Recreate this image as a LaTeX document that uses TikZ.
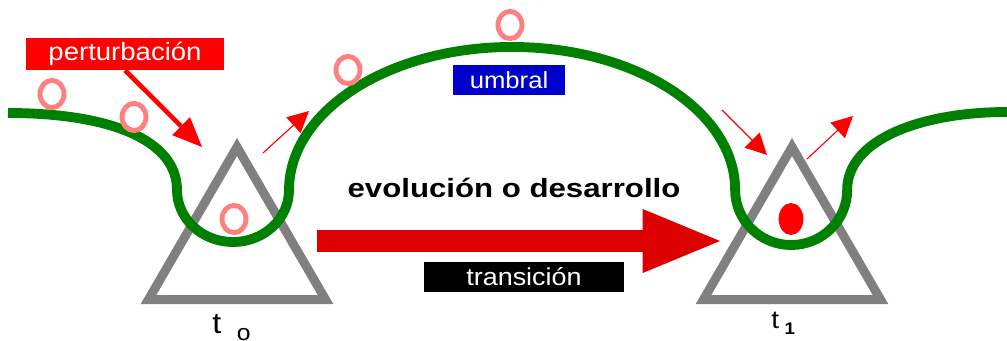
\documentclass[tikz,border=0pt]{standalone}
\usepackage{fontspec}
\setmainfont{Liberation Sans}[FakeStretch=1.1]
\newfontfamily\titulo{Liberation Sans}[FakeStretch=1.18]
\usetikzlibrary{arrows.meta}
\definecolor{verde}{RGB}{0,128,0}
\definecolor{gris}{RGB}{128,128,128}
\definecolor{rosa}{RGB}{255,128,128}
\definecolor{rojo}{RGB}{255,0,0}
\definecolor{rojooscuro}{RGB}{221,0,0}
\definecolor{azul}{RGB}{0,0,204}

\begin{document}
\begin{tikzpicture}[x=0.025cm, y=-0.025cm,
	caja/.style={text=white, inner sep=0pt},
	bola/.style={draw=rosa, line width=3.5pt},
	flechita/.style={rojo, line width=0.8pt, -{Triangle[length=15pt,width=15pt]}},
	triangulo/.style={draw=gris, line width=6.4pt}]
	\useasboundingbox (0,0) rectangle (1007,341);
	\foreach \cx in {237,792}
		\draw[triangulo] (\cx-88.5,299.5) -- (\cx,147) -- (\cx+88.5,299.5) -- cycle;
	% paisaje de potencial
	\draw[verde, line width=7pt, line join=round] (8,113) .. controls (110,113) and (177,140) .. (177,190)
		arc[start angle=180, end angle=360, x radius=1.4cm, y radius=1.3cm]
		arc[start angle=180, end angle=0, x radius=5.575cm, y radius=3.575cm]
		arc[start angle=180, end angle=360, x radius=1.4cm, y radius=1.375cm]
		.. controls (847,140) and (920,112) .. (1007,112);
	\foreach \bx/\by in {52/94, 134/117, 234/219, 348/70, 510/25}
		\draw[bola] (\bx,\by) ellipse[x radius=0.3cm, y radius=0.34cm];
	\fill[rojo] (791,219) ellipse[x radius=0.31cm, y radius=0.4cm];
	\node[caja, fill=rojo, minimum width=4.95cm, minimum height=0.8cm, font=\fontsize{17.8}{20}\selectfont] (perturbacion) at (125,54) {perturbación};
	\node[caja, fill=azul, minimum width=2.8cm, minimum height=0.75cm, font=\fontsize{16.6}{20}\selectfont] (umbral) at (509,80) {umbral};
	\node[caja, fill=black, minimum width=5cm, minimum height=0.75cm, font=\fontsize{17.4}{20}\selectfont] (transicion) at (524,277) {transición};
	\node[anchor=base, inner sep=0pt, font=\fontsize{18.8}{22}\titulo\bfseries] (evolucion) at (514,197) {evolución o desarrollo};
	\node[anchor=base west, inner sep=0pt, font=\fontsize{21}{21}\selectfont] (t0) at (212,333) {t\kern11pt\raisebox{-5pt}{\fontsize{16}{16}\selectfont o}};
	\node[anchor=base west, inner sep=0pt, font=\fontsize{18}{18}\selectfont] (t1) at (771,328) {t\kern4pt\raisebox{-4.3pt}{\fontsize{12}{12}\selectfont\bfseries 1}};
	% flechas
	\coordinate (golpe) at (202,147);
	\coordinate (sale0) at (263,153);
	\coordinate (fin0) at (309,111);
	\coordinate (entra1) at (722,110);
	\coordinate (fin1) at (767,155);
	\coordinate (sale1) at (807,159);
	\coordinate (fin2) at (853,116);
	\coordinate (inicio) at (317,241);
	\coordinate (meta) at (720,241);
	\draw[rojo, line width=3.3pt, -{Triangle[length=21pt,width=18pt,line width=0pt]}] (perturbacion.south) -- (golpe);
	\draw[flechita] (sale0) -- (fin0);
	\draw[flechita] (entra1) -- (fin1);
	\draw[flechita] (sale1) -- (fin2);
	\draw[rojooscuro, line width=15pt, -{Triangle[length=55pt,width=45.5pt,line width=0pt]}] (inicio) -- (meta);
\end{tikzpicture}
\end{document}
